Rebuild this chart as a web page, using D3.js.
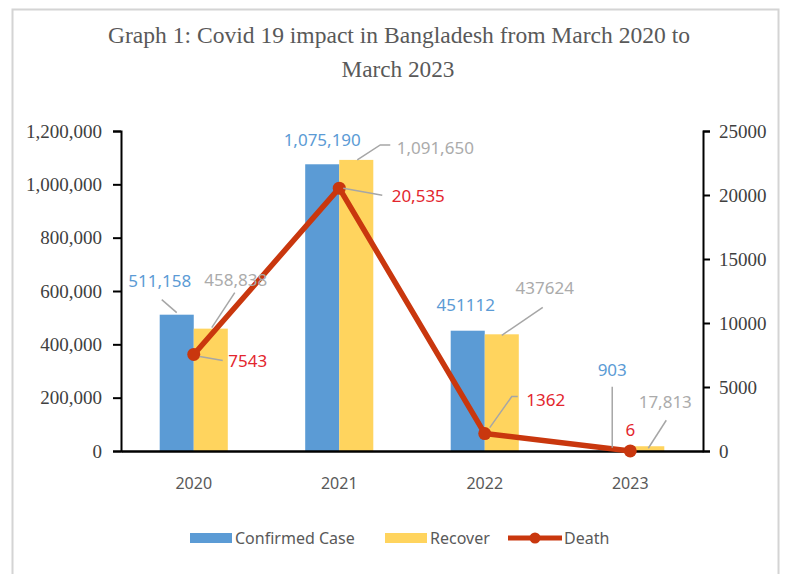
<!DOCTYPE html>
<html>
<head>
<meta charset="utf-8">
<script src="https://cdn.jsdelivr.net/npm/d3@7"></script>
<style>
  body { margin: 0; background: #fff; }
  svg { display: block; }
</style>
</head>
<body>
<script>
// data
var years = ["2020", "2021", "2022", "2023"];
var confirmed = [511158, 1075190, 451112, 903];
var recovered = [458838, 1091650, 437624, 17813];
var deaths = [7543, 20535, 1362, 6];
var confirmedLabels = ["511,158", "1,075,190", "451112", "903"];
var recoverLabels = ["458,838", "1,091,650", "437624", "17,813"];
var deathLabels = ["7543", "20,535", "1362", "6"];
var leftTicks = [0, 200000, 400000, 600000, 800000, 1000000, 1200000];
var rightTicks = [0, 5000, 10000, 15000, 20000, 25000];
var seriesNames = ["Confirmed Case", "Recover", "Death"];

var W = 786, H = 574;
var margin = {top: 131, right: 83, bottom: 123, left: 121};
var width = W - margin.left - margin.right,
    height = H - margin.top - margin.bottom;

var colBlue = "#5B9BD5", colYellow = "#FFD45E", colDeath = "#C9370E";
var labBlue = "#5B9BD5", labGrey = "#ABABAB", labRed = "#E3262E", leader = "#A6A6A6";
var serif = "'Liberation Serif', 'Times New Roman', serif";

var svg = d3.select("body").append("svg")
    .attr("width", W)
    .attr("height", H);

// outer frame
svg.append("rect")
    .attr("x", 12.5).attr("y", 9.5)
    .attr("width", 766).attr("height", 600)
    .attr("fill", "none")
    .attr("stroke", "#D4D4D4")
    .attr("stroke-width", 2);

// title
var title = svg.append("g")
    .attr("font-family", serif)
    .attr("font-size", 24)
    .attr("fill", "#595959")
    .attr("text-anchor", "middle");
title.append("text").attr("x", 399).attr("y", 43)
    .attr("textLength", 582).attr("lengthAdjust", "spacingAndGlyphs")
    .text("Graph 1: Covid 19 impact in Bangladesh from March 2020 to");
title.append("text").attr("x", 398).attr("y", 77)
    .attr("textLength", 113).attr("lengthAdjust", "spacingAndGlyphs")
    .text("March 2023");

var g = svg.append("g")
    .attr("transform", "translate(" + margin.left + "," + margin.top + ")");

var x0 = d3.scaleBand().domain(years).range([0, width]);
var barW = x0.bandwidth() * 0.234;
var x1 = d3.scaleBand().domain(["c", "r"])
    .range([x0.bandwidth() / 2 - barW, x0.bandwidth() / 2 + barW]);

var y = d3.scaleLinear().domain([0, 1200000]).range([height, 0]);
var y2 = d3.scaleLinear().domain([0, 25000]).range([height, 0]);

// bars
var bars = g.selectAll(".yr")
    .data(years)
    .enter().append("g")
    .attr("transform", function(d) { return "translate(" + x0(d) + ",0)"; });

bars.append("rect")
    .attr("x", x1("c"))
    .attr("width", x1.bandwidth())
    .attr("y", function(d, i) { return y(confirmed[i]); })
    .attr("height", function(d, i) { return height - y(confirmed[i]); })
    .attr("fill", colBlue);

bars.append("rect")
    .attr("x", x1("r"))
    .attr("width", x1.bandwidth())
    .attr("y", function(d, i) { return y(recovered[i]); })
    .attr("height", function(d, i) { return height - y(recovered[i]); })
    .attr("fill", colYellow);

// left axis
var axL = g.append("g")
    .call(d3.axisLeft(y).tickValues(leftTicks).tickFormat(d3.format(",")).tickSize(8).tickPadding(11));
// right axis
var axR = g.append("g")
    .attr("transform", "translate(" + width + ",0)")
    .call(d3.axisRight(y2).tickValues(rightTicks).tickFormat(d3.format("d")).tickSize(7).tickPadding(9));

[axL, axR].forEach(function(a) {
    a.attr("font-family", serif).attr("font-size", 19);
    a.select(".domain").attr("stroke", "#000").attr("stroke-width", 2);
    a.selectAll(".tick line").attr("stroke", "#000").attr("stroke-width", 2);
    a.selectAll("text").attr("fill", "#404040");
});

// x axis
var axB = g.append("g")
    .attr("transform", "translate(0," + height + ")")
    .call(d3.axisBottom(x0).tickSize(0).tickPadding(27));
axB.attr("font-family", "'Noto Sans', sans-serif").attr("font-size", 16);
axB.select(".domain").attr("stroke", "#000").attr("stroke-width", 2.5);
axB.selectAll("text").attr("fill", "#595959");

// death line
var line = d3.line()
    .x(function(d, i) { return x0(years[i]) + x0.bandwidth() / 2; })
    .y(function(d) { return y2(d); });

g.append("path")
    .datum(deaths)
    .attr("d", line)
    .attr("fill", "none")
    .attr("stroke", colDeath)
    .attr("stroke-width", 5.5)
    .attr("stroke-linejoin", "round");

g.selectAll(".dot")
    .data(deaths)
    .enter().append("circle")
    .attr("cx", function(d, i) { return x0(years[i]) + x0.bandwidth() / 2; })
    .attr("cy", function(d) { return y2(d); })
    .attr("r", 6.5)
    .attr("fill", colDeath);

// data labels: text offset and leader points relative to each mark's anchor
var confLayout = [
    {dx: -17, dy: -34, lead: [[-15, -15], [0, -2]]},
    {dx: 0, dy: -24, lead: null},
    {dx: -2, dy: -26, lead: null},
    {dx: -1, dy: -81, lead: [[-1, -64], [-1, -3]]}
];
var recLayout = [
    {dx: 25, dy: -49, lead: [[24, -36], [1, -1]]},
    {dx: 79, dy: -12, lead: [[34, -15], [24, -15], [1, 0]]},
    {dx: 43, dy: -46, lead: [[41, -27], [0, 1]]},
    {dx: 18, dy: -44, lead: [[19, -26], [1, 2]]}
];
var deathLayout = [
    {dx: 54, dy: 7, lead: [[6, 2], [29, 6]]},
    {dx: 79, dy: 8, lead: [[4, 0], [43, 7]]},
    {dx: 61, dy: -34, lead: [[33, -37], [27, -37], [5, -6]]},
    {dx: 0, dy: -21, lead: null}
];

var labels = g.append("g")
    .attr("font-family", "'Noto Sans', sans-serif")
    .attr("font-size", 17)
    .attr("text-anchor", "middle");

function addLabels(texts, layout, ax, ay, color) {
    texts.forEach(function(t, i) {
        var px = ax(i), py = ay(i), L = layout[i];
        if (L.lead) {
            labels.append("polyline")
                .attr("points", L.lead.map(function(p) { return (px + p[0]) + "," + (py + p[1]); }).join(" "))
                .attr("fill", "none")
                .attr("stroke", leader)
                .attr("stroke-width", 1.5);
        }
        labels.append("text")
            .attr("x", px + L.dx)
            .attr("y", py + L.dy)
            .attr("dy", "0.35em")
            .attr("fill", color)
            .text(t);
    });
}

addLabels(confirmedLabels, confLayout,
    function(i) { return x0(years[i]) + x1("c") + x1.bandwidth() / 2; },
    function(i) { return y(confirmed[i]); }, labBlue);
addLabels(recoverLabels, recLayout,
    function(i) { return x0(years[i]) + x1("r") + x1.bandwidth() / 2; },
    function(i) { return y(recovered[i]); }, labGrey);
addLabels(deathLabels, deathLayout,
    function(i) { return x0(years[i]) + x0.bandwidth() / 2; },
    function(i) { return y2(deaths[i]); }, labRed);

// legend
var legend = svg.append("g")
    .attr("font-family", "'Noto Sans', sans-serif")
    .attr("font-size", 16)
    .attr("fill", "#595959");
var legX = [190, 385, 508];
var legY = 538;

legend.append("rect").attr("x", legX[0]).attr("y", legY - 5).attr("width", 42).attr("height", 10).attr("fill", colBlue);
legend.append("text").attr("x", legX[0] + 45).attr("y", legY).attr("dy", "0.35em").text(seriesNames[0]);
legend.append("rect").attr("x", legX[1]).attr("y", legY - 5).attr("width", 42).attr("height", 10).attr("fill", colYellow);
legend.append("text").attr("x", legX[1] + 45).attr("y", legY).attr("dy", "0.35em").text(seriesNames[1]);
legend.append("line").attr("x1", legX[2]).attr("x2", legX[2] + 54).attr("y1", legY).attr("y2", legY)
    .attr("stroke", colDeath).attr("stroke-width", 5);
legend.append("circle").attr("cx", legX[2] + 27).attr("cy", legY).attr("r", 5.5).attr("fill", colDeath);
legend.append("text").attr("x", legX[2] + 56).attr("y", legY).attr("dy", "0.35em").text(seriesNames[2]);
</script>
</body>
</html>
